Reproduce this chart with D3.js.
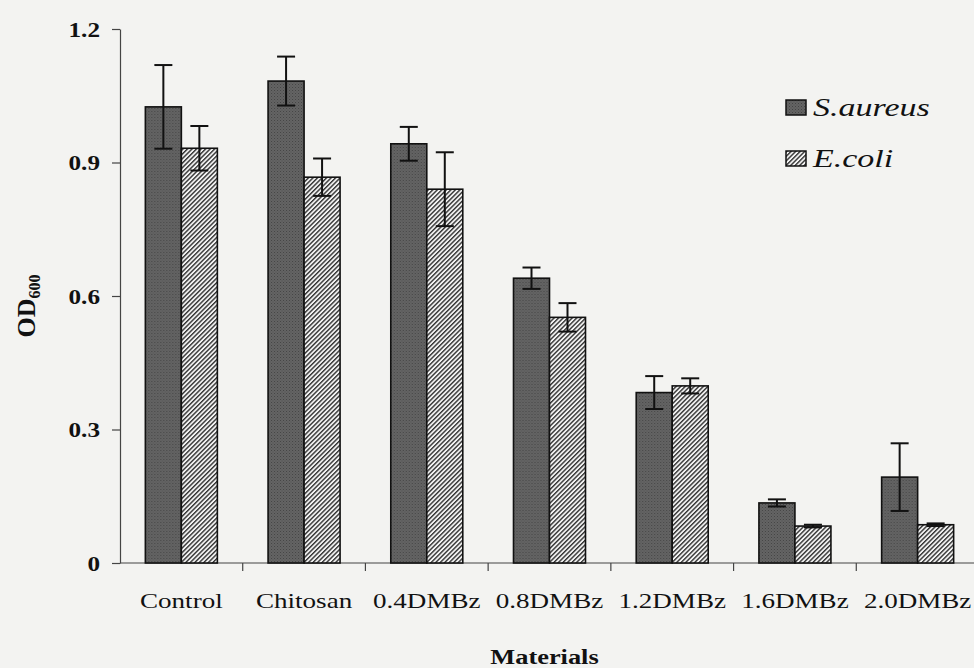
<!DOCTYPE html>
<html>
<head>
<meta charset="utf-8">
<script src="https://cdn.jsdelivr.net/npm/d3@7"></script>
<style>
  html, body { margin: 0; padding: 0; background: #f3f3f1; }
  svg { display: block; }
  text { font-family: "Liberation Serif", "Times New Roman", serif; fill: #111; }
</style>
</head>
<body>
<svg id="chart" width="974" height="668"></svg>
<script>
const categories = ["Control", "Chitosan", "0.4DMBz", "0.8DMBz", "1.2DMBz", "1.6DMBz", "2.0DMBz"];
const seriesNames = ["S.aureus", "E.coli"];
const saureus = [1.025, 1.083, 0.942, 0.640, 0.383, 0.135, 0.193];
const saureusErr = [0.094, 0.055, 0.038, 0.024, 0.037, 0.008, 0.076];
const ecoli = [0.932, 0.867, 0.840, 0.552, 0.398, 0.083, 0.086];
const ecoliErr = [0.050, 0.042, 0.083, 0.032, 0.017, 0.003, 0.003];
const yTicks = [0, 0.3, 0.6, 0.9, 1.2];
const yTickLabels = ["0", "0.3", "0.6", "0.9", "1.2"];

const SX = 1.2; // horizontal text stretch seen in the reference
const svg = d3.select("#chart");

// patterns
const defs = svg.append("defs");
const stip = defs.append("pattern").attr("id", "stipple")
  .attr("patternUnits", "userSpaceOnUse").attr("width", 3).attr("height", 3);
stip.append("rect").attr("width", 3).attr("height", 3).attr("fill", "#646464");
stip.append("rect").attr("x", 0).attr("y", 0).attr("width", 1).attr("height", 1).attr("fill", "#444");
stip.append("rect").attr("x", 1.5).attr("y", 1.5).attr("width", 1).attr("height", 1).attr("fill", "#505050");
const hatch = defs.append("pattern").attr("id", "hatch")
  .attr("patternUnits", "userSpaceOnUse").attr("width", 3.2).attr("height", 3.2)
  .attr("patternTransform", "rotate(45)");
hatch.append("rect").attr("width", 3.2).attr("height", 3.2).attr("fill", "#f2f2f2");
hatch.append("line").attr("x1", 0.7).attr("y1", 0).attr("x2", 0.7).attr("y2", 3.2)
  .attr("stroke", "#333").attr("stroke-width", 1.4);

const mLeft = 120, mRight = 979, mTop = 29, mBottom = 563;

const x0 = d3.scaleBand().domain(categories).range([mLeft, mRight]).paddingInner(0).paddingOuter(0);
const pairW = 72;
const x1 = d3.scaleBand().domain(seriesNames).range([0, pairW]).padding(0);
const y = d3.scaleLinear().domain([0, 1.2]).range([mBottom, mTop]);

const data = categories.map((c, i) => ({
  cat: c,
  vals: [
    {s: "S.aureus", v: saureus[i], e: saureusErr[i]},
    {s: "E.coli", v: ecoli[i], e: ecoliErr[i]}
  ]
}));
const fills = {"S.aureus": "url(#stipple)", "E.coli": "url(#hatch)"};

// Y axis
const yAxis = d3.axisLeft(y).tickValues(yTicks)
  .tickFormat((d, i) => yTickLabels[i]).tickSize(8).tickSizeOuter(0);
const gy = svg.append("g").attr("transform", `translate(${mLeft},0)`).call(yAxis);
gy.select(".domain").attr("stroke", "#444").attr("stroke-width", 1.2);
gy.selectAll(".tick line").attr("stroke", "#444").attr("stroke-width", 1.2);
gy.selectAll(".tick text")
  .attr("font-family", "Liberation Serif").attr("font-weight", "bold").attr("font-size", 21)
  .attr("fill", "#111")
  .attr("x", -20 / SX).attr("dy", "0.34em")
  .attr("transform", `scale(${SX},1)`);

// X axis (ticks at band boundaries)
const gx = svg.append("g").attr("transform", `translate(0,${mBottom})`);
gx.append("line").attr("x1", mLeft).attr("x2", mRight).attr("y1", 0).attr("y2", 0)
  .attr("stroke", "#444").attr("stroke-width", 1.2);
gx.selectAll("line.tk").data(categories.slice(1)).join("line").attr("class", "tk")
  .attr("x1", d => x0(d)).attr("x2", d => x0(d)).attr("y1", 0).attr("y2", 8)
  .attr("stroke", "#444").attr("stroke-width", 1.2);
gx.selectAll("text.cat").data(categories).join("text").attr("class", "cat")
  .attr("transform", d => `translate(${x0(d) + x0.bandwidth() / 2},45) scale(1.23,1)`)
  .attr("text-anchor", "middle").attr("font-size", 22).text(d => d);

// Bars
const groups = svg.append("g").selectAll("g").data(data).join("g")
  .attr("transform", d => `translate(${x0(d.cat) + (x0.bandwidth() - pairW) / 2},0)`);
groups.selectAll("rect").data(d => d.vals).join("rect")
  .attr("x", d => x1(d.s)).attr("width", x1.bandwidth())
  .attr("y", d => y(d.v)).attr("height", d => y(0) - y(d.v))
  .attr("fill", d => fills[d.s]).attr("stroke", "#111").attr("stroke-width", 1.6);

// Error bars
const eb = groups.selectAll("g.err").data(d => d.vals).join("g").attr("class", "err")
  .attr("transform", d => `translate(${x1(d.s) + x1.bandwidth() / 2},0)`);
eb.append("line").attr("x1", 0).attr("x2", 0)
  .attr("y1", d => y(d.v + d.e)).attr("y2", d => y(d.v - d.e))
  .attr("stroke", "#111").attr("stroke-width", 2);
eb.append("line").attr("x1", -9).attr("x2", 9)
  .attr("y1", d => y(d.v + d.e)).attr("y2", d => y(d.v + d.e))
  .attr("stroke", "#111").attr("stroke-width", 2);
eb.append("line").attr("x1", -9).attr("x2", 9)
  .attr("y1", d => y(d.v - d.e)).attr("y2", d => y(d.v - d.e))
  .attr("stroke", "#111").attr("stroke-width", 2);

// Axis titles
svg.append("text")
  .attr("transform", `translate(${(mLeft + mRight) / 2 - 5},664) scale(${SX},1)`)
  .attr("text-anchor", "middle").attr("font-weight", "bold").attr("font-size", 22)
  .text("Materials");
const yl = svg.append("text")
  .attr("transform", `translate(35,306) rotate(-90)`)
  .attr("text-anchor", "middle").attr("font-weight", "bold").attr("font-size", 26);
yl.append("tspan").text("OD");
yl.append("tspan").attr("font-size", 16).attr("dy", 5).text("600");

// Legend
const lg = svg.append("g").selectAll("g").data(seriesNames).join("g")
  .attr("transform", (d, i) => `translate(786,${100 + i * 51})`);
lg.append("rect").attr("width", 20).attr("height", 15)
  .attr("fill", d => fills[d]).attr("stroke", "#111").attr("stroke-width", 1.5);
lg.append("text").attr("transform", `translate(27,16) scale(1.36,1)`)
  .attr("font-style", "italic").attr("font-size", 25).text(d => d);
</script>
</body>
</html>
